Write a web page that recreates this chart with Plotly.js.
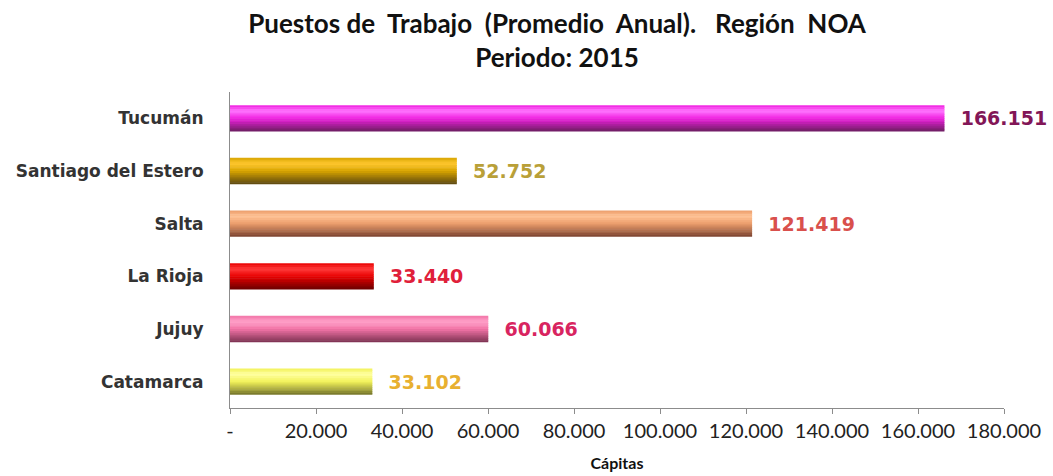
<!DOCTYPE html>
<html>
<head>
<meta charset="utf-8">
<script src="https://cdn.plot.ly/plotly-3.0.1.min.js"></script>
<style>html,body{margin:0;padding:0;background:#fff;}#chart{width:1053px;height:476px;}</style>
</head>
<body>
<div id="chart"></div>
<script>
// ---- data ----
const provinces = ['Tucumán', 'Santiago del Estero', 'Salta', 'La Rioja', 'Jujuy', 'Catamarca'];
const puestos = [166151, 52752, 121419, 33440, 60066, 33102];
const tickValues = [0, 20000, 40000, 60000, 80000, 100000, 120000, 140000, 160000, 180000];
const tickLabels = ['-', '20.000', '40.000', '60.000', '80.000', '100.000', '120.000', '140.000', '160.000', '180.000'];

// ---- per-bar colours ----
const colMain  = ['#f020e0', '#d8a400', '#eb9d6c', '#e80000', '#f274a6', '#f2f25a'];
const colLight = ['#ff78ff', '#ffc830', '#ffc294', '#ff3c3c', '#ffa2ca', '#ffffa0'];
const colDark  = ['#6a1e60', '#5a4610', '#7a4230', '#6a0000', '#7a3050', '#72722a'];
const labelColors = ['#821657', '#b9a038', '#d9504c', '#e0203a', '#d82460', '#e8b030'];

// gradient stops (position from top of bar 0..1 -> colour set)
const stops = [[0, colMain], [0.22, colLight], [0.5, colMain], [1, colDark]];
const nBands = 14, barWidth = 0.5;

function hex2rgb(h){return [1,3,5].map(i=>parseInt(h.substr(i,2),16));}
function mix(a,b,t){const A=hex2rgb(a),B=hex2rgb(b);return 'rgb('+A.map((v,i)=>Math.round(v+(B[i]-v)*t)).join(',')+')';}
function colourAt(t){
  for(let s=0;s<stops.length-1;s++){
    const [p0,c0]=stops[s],[p1,c1]=stops[s+1];
    if(t<=p1){const f=(t-p0)/(p1-p0);return c0.map((c,i)=>mix(c,c1[i],f));}
  }
  return stops[stops.length-1][1];
}

const traces = [];
for(let k=0;k<nBands;k++){
  const t=(k+0.5)/nBands;
  traces.push({
    type: 'bar', orientation: 'h',
    x: puestos, y: provinces,
    offset: -barWidth/2 + k*barWidth/nBands,
    width: barWidth/nBands + (k<nBands-1 ? 0.01 : 0),
    marker: {color: colourAt(t), line: {width: 0}},
    hoverinfo: 'skip', showlegend: false
  });
}

traces.push({
  type: 'bar', orientation: 'h',
  x: puestos, y: provinces,
  offset: -barWidth/2, width: barWidth,
  marker: {color: 'rgba(0,0,0,0)', line: {width: 0}},
  texttemplate: '\u00a0\u00a0%{x:,}',
  textposition: 'outside',
  constraintext: 'none',
  cliponaxis: false,
  textfont: {family: 'DejaVu Sans', size: 19, color: labelColors, weight: 'bold'},
  hoverinfo: 'skip', showlegend: false
});

const sp = ' \u00a0';
const layout = {
  width: 1053, height: 476,
  paper_bgcolor: '#ffffff', plot_bgcolor: '#ffffff',
  separators: ',.',
  barmode: 'overlay',
  margin: {l: 230, r: 49, t: 92, b: 68},
  title: {
    text: '<b>Puestos de' + sp + 'Trabajo' + sp + '(Promedio' + sp + 'Anual).' + sp + '\u00a0Región' + sp + 'NOA</b><br><b>Periodo: 2015</b>',
    font: {family: 'Lato', size: 26, color: '#111'},
    x: 0.529, xanchor: 'center', y: 0.93, yanchor: 'top', yref: 'container'
  },
  xaxis: {
    range: [0, 180000],
    tickvals: tickValues, ticktext: tickLabels,
    showgrid: false, zeroline: false,
    showline: true, linecolor: '#8c8c8c', linewidth: 1,
    ticks: 'outside', ticklen: 5, tickcolor: '#8c8c8c',
    tickfont: {family: 'Lato', size: 20, color: '#222'},
    title: {text: '<b>Cápitas</b>', font: {family: 'Lato', size: 16, color: '#111'}, standoff: 16}
  },
  yaxis: {
    autorange: 'reversed',
    showgrid: false, zeroline: false,
    showline: true, linecolor: '#8c8c8c', linewidth: 1,
    ticks: '', ticklabelstandoff: 22,
    tickfont: {family: 'DejaVu Sans', size: 17, color: '#333', weight: 'bold'}
  }
};

Plotly.newPlot('chart', traces, layout, {displayModeBar: false, staticPlot: true});
</script>
</body>
</html>
